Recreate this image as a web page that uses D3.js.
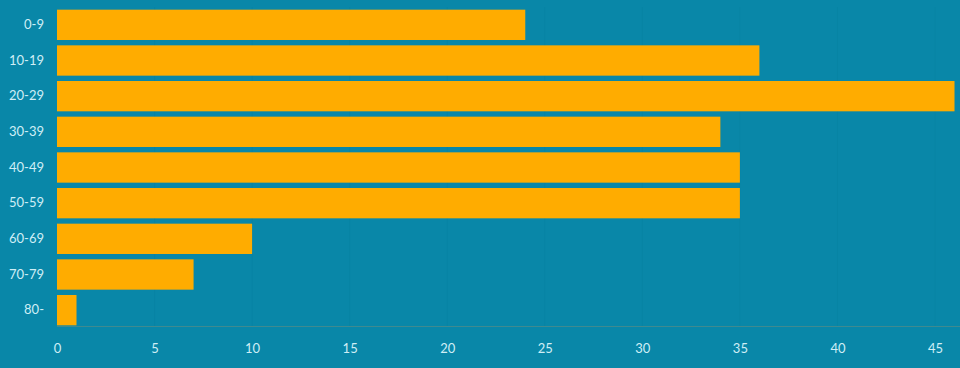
<!DOCTYPE html>
<html>
<head>
<meta charset="utf-8">
<script src="https://cdn.jsdelivr.net/npm/d3@7/dist/d3.min.js"></script>
<style>
  html, body { margin: 0; padding: 0; background: #0987a8; }
  svg { display: block; }
</style>
</head>
<body>
<svg id="chart" width="960" height="368"></svg>
<script>
const categories = ["0-9", "10-19", "20-29", "30-39", "40-49", "50-59", "60-69", "70-79", "80-"];
const values = [24, 36, 46, 34, 35, 35, 10, 7, 1];
const xTicks = [0, 5, 10, 15, 20, 25, 30, 35, 40, 45];

const svg = d3.select("#chart");
const W = 960, H = 368;
svg.append("rect").attr("width", W).attr("height", H).attr("fill", "#0987a8");

const x = d3.scaleLinear().domain([0, 45]).range([57, 935]);
const y = d3.scaleBand().domain(categories).range([7, 328]).paddingInner(0.15).paddingOuter(0.075);

// faint gridlines
svg.append("g").selectAll("line").data(xTicks.slice(1)).join("line")
  .attr("x1", d => x(d)).attr("x2", d => x(d))
  .attr("y1", 7).attr("y2", 326)
  .attr("stroke", "#0884a4").attr("stroke-width", 1);

// bars
svg.append("g").selectAll("rect").data(values).join("rect")
  .attr("x", x(0))
  .attr("y", (d, i) => y(categories[i]))
  .attr("width", d => x(d) - x(0))
  .attr("height", y.bandwidth())
  .attr("fill", "#ffac00");

// axis baseline across the full width
svg.append("line").attr("x1", x(0)).attr("x2", W).attr("y1", 326.5).attr("y2", 326.5)
  .attr("stroke", "#3f8a8f").attr("stroke-width", 1);

// x axis
const xAxis = svg.append("g").attr("transform", "translate(0,326)")
  .call(d3.axisBottom(x).tickValues(xTicks).tickSize(0).tickPadding(18));
xAxis.select(".domain").remove();
xAxis.selectAll("text").attr("fill", "#cfeef6").style("font-family", "Lato, 'Open Sans', sans-serif").style("font-size", "13px");

// y axis
const yAxis = svg.append("g").attr("transform", "translate(57,0)")
  .call(d3.axisLeft(y).tickSize(0).tickPadding(13));
yAxis.select(".domain").remove();
yAxis.selectAll("text").attr("fill", "#cfeef6").style("font-family", "Lato, 'Open Sans', sans-serif").style("font-size", "13px");
</script>
</body>
</html>
